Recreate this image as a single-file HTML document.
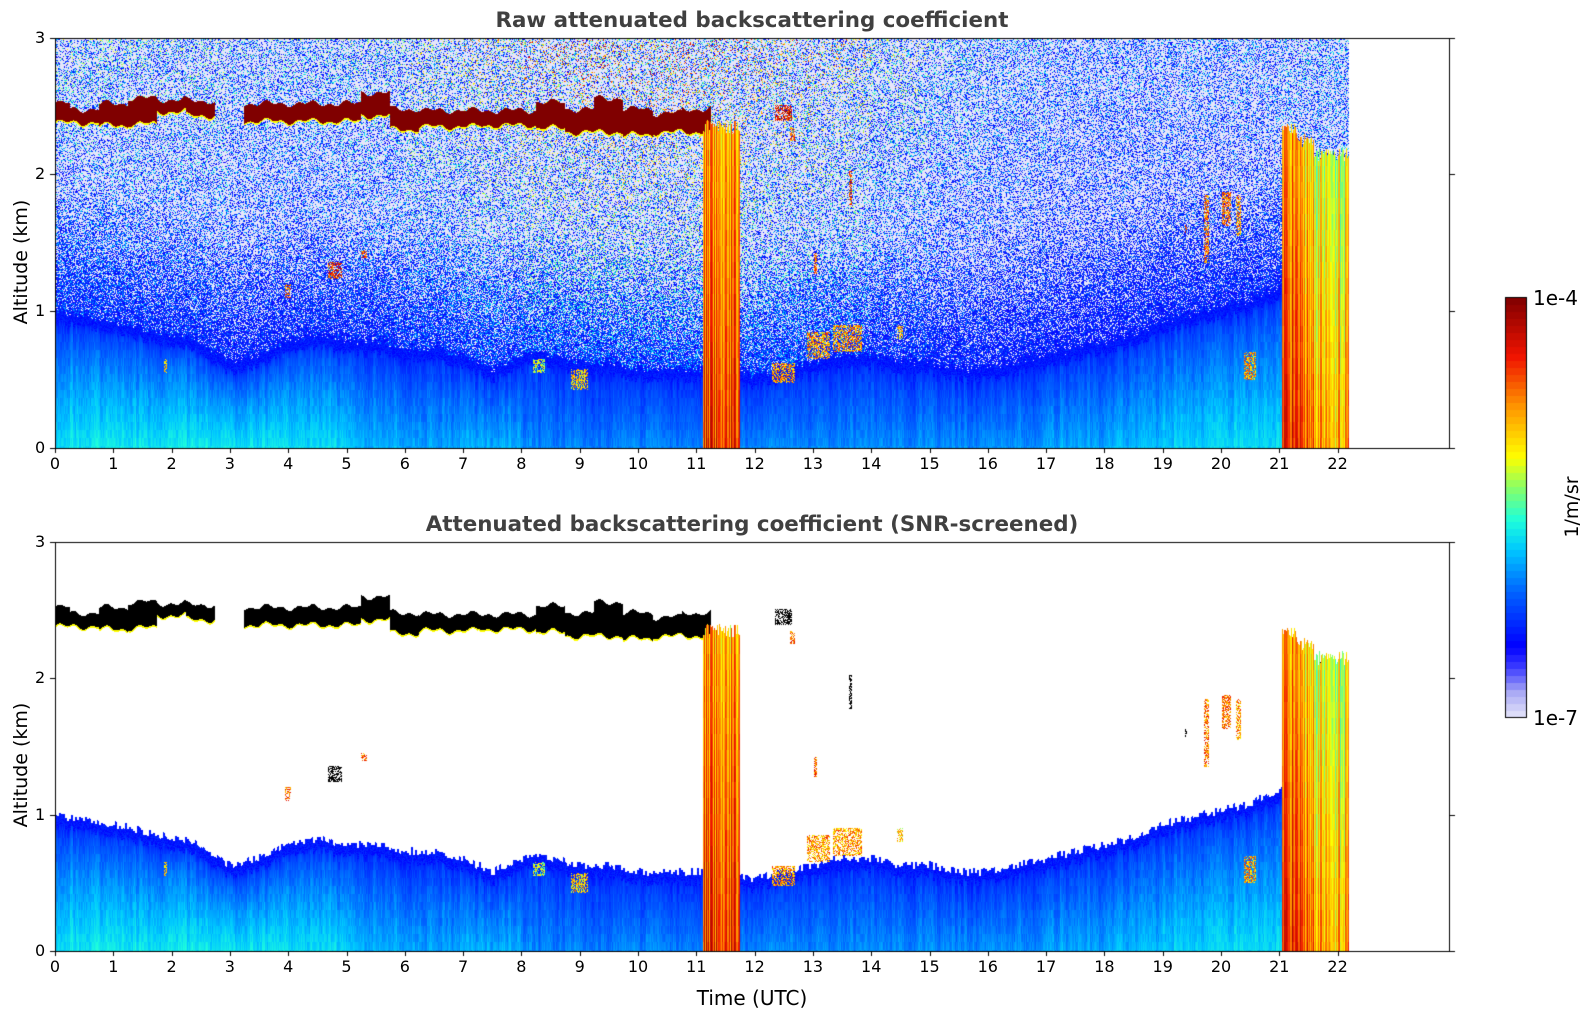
<!DOCTYPE html>
<html><head><meta charset="utf-8">
<style>
html,body{margin:0;padding:0;background:#fff;}
body{width:1595px;height:1020px;position:relative;overflow:hidden;font-family:"DejaVu Sans","Liberation Sans",sans-serif;}
canvas{position:absolute;}
.t{position:absolute;white-space:nowrap;color:#000;}
</style></head>
<body>
<canvas id="c" width="1595" height="1020" style="left:0;top:0"></canvas>
<div class="t" style="left:0;width:1504px;text-align:center;top:8px;font-size:21.4px;font-weight:bold;color:#404040">Raw attenuated backscattering coefficient</div>
<div class="t" style="left:0;width:1504px;text-align:center;top:512px;font-size:21.4px;font-weight:bold;color:#404040">Attenuated backscattering coefficient (SNR-screened)</div>
<div class="t" style="left:21px;top:262px;font-size:19px;transform:translate(-50%,-50%) rotate(-90deg)">Altitude (km)</div>
<div class="t" style="left:21px;top:765px;font-size:19px;transform:translate(-50%,-50%) rotate(-90deg)">Altitude (km)</div>
<div class="t" style="left:752px;top:998px;font-size:20px;transform:translate(-50%,-50%)">Time (UTC)</div>
<div class="t" style="left:1533px;top:286px;font-size:20px">1e-4</div>
<div class="t" style="left:1533px;top:706px;font-size:20px">1e-7</div>
<div class="t" style="left:1572px;top:507px;font-size:19px;transform:translate(-50%,-50%) rotate(-90deg)">1/m/sr</div>
<div id="labels"></div>
<script>
// ---- data ----
const times=[0,0.5,1,1.5,2,2.5,3,3.5,4,4.5,5,5.5,6,6.5,7,7.5,8,8.5,9,9.5,10,10.5,11,11.5,12,12.5,13,13.5,14,14.5,15,15.5,16,16.5,17,17.5,18,18.5,19,19.5,20,20.5,21,21.5,22];
const blh=[0.9,0.9,0.85,0.8,0.75,0.7,0.55,0.6,0.7,0.75,0.7,0.7,0.65,0.65,0.6,0.5,0.6,0.6,0.55,0.55,0.5,0.5,0.5,0.5,0.45,0.5,0.55,0.6,0.6,0.55,0.55,0.5,0.5,0.55,0.6,0.65,0.7,0.75,0.85,0.9,0.95,1.0,1.1,1.1,1.1];
const blStrength=[0.9,0.9,0.9,0.85,0.8,0.6,0.5,0.55,0.3,0.3,0.3,0.3,0.3,0.35,0.35,0.35,0.4,0.5,0.6,0.75,0.8,0.8,0.8];
const cloudBase=[2.37,2.37,2.35,2.36,2.45,2.42,0,2.38,2.38,2.38,2.38,2.42,2.32,2.34,2.34,2.35,2.35,2.33,2.3,2.3,2.28,2.3,2.3,0,0,0,0,0,0,0,0,0,0,0,0,0,0,0,0,0,0,0,0,0,0];
const cloudTop=[2.52,2.48,2.52,2.56,2.55,2.54,0,2.52,2.52,2.52,2.52,2.6,2.48,2.47,2.47,2.47,2.47,2.53,2.48,2.56,2.48,2.45,2.48,0,0,0,0,0,0,0,0,0,0,0,0,0,0,0,0,0,0,0,0,0,0];
const sunAmp=[0.5,0.5,0.5,0.45,0.45,0.5,0.6,0.7,0.8,0.85,0.85,0.8,0.75,0.7,0.55,0.45,0.4,0.35,0.35,0.35,0.35,0.4,0.4];
const rainStart=[11.12,21.05,21.3,21.6];
const rainEnd=[11.75,21.3,21.6,22.2];
const rainTop=[2.3,2.3,2.2,2.1];
const rainLevel=[0.82,0.86,0.8,0.72];
const blobT=[1.9,4.0,4.8,5.3,8.3,9.0,12.5,13.1,13.6,13.65,14.5,12.5,12.65,19.4,19.75,20.1,20.3,20.5,21.8,13.05];
const blobZ=[0.6,1.15,1.3,1.42,0.6,0.5,0.55,0.75,0.8,1.9,0.85,2.45,2.3,1.6,1.6,1.75,1.7,0.6,2.05,1.35];
const blobW=[0.05,0.1,0.25,0.1,0.2,0.3,0.4,0.4,0.5,0.05,0.1,0.3,0.1,0.05,0.1,0.15,0.1,0.2,0.2,0.05];
const blobH=[0.1,0.1,0.12,0.06,0.1,0.15,0.15,0.2,0.2,0.25,0.1,0.12,0.1,0.06,0.5,0.25,0.3,0.2,0.15,0.15];
const blobV=[0.85,0.9,0.95,0.9,0.7,0.8,0.85,0.85,0.85,0.95,0.8,1.0,0.9,0.95,0.9,0.9,0.85,0.85,1.0,0.9];
const xTicks=[0,1,2,3,4,5,6,7,8,9,10,11,12,13,14,15,16,17,18,19,20,21,22];
const yTicks=[0,1,2,3];

// ---- geometry ----
const L=55,R=1449,PXH=58.3,TEND=22.2;
const panels=[{top:37.6,bot:448,raw:true},{top:541.7,bot:951,raw:false}];
const X=t=>L+t*PXH;
const ctx=document.getElementById('c').getContext('2d');

function interp(arr,t){const i=Math.min(arr.length-2,Math.max(0,Math.floor(t/0.5)));const f=Math.min(1,Math.max(0,(t-i*0.5)/0.5));return arr[i]*(1-f)+arr[i+1]*f;}
function near(arr,t){return arr[Math.min(arr.length-1,Math.round(t/0.5))];}
function hash(a,b){let h=(a*374761393+b*668265263)|0;h=(h^(h>>>13))*1274126177|0;return ((h^(h>>>16))>>>0)/4294967296;}
const stops=[[0,230,230,250],[0.06,170,170,245],[0.12,60,60,255],[0.17,0,0,255],[0.3,0,100,255],[0.4,0,200,255],[0.47,30,255,220],[0.55,140,255,100],[0.62,255,255,0],[0.74,255,150,0],[0.86,240,20,0],[1,128,0,0]];
function cmap(v){v=Math.max(0,Math.min(1,v));for(let i=1;i<stops.length;i++){if(v<=stops[i][0]){const a=stops[i-1],b=stops[i],f=(v-a[0])/(b[0]-a[0]);return [a[1]+(b[1]-a[1])*f,a[2]+(b[2]-a[2])*f,a[3]+(b[3]-a[3])*f];}}return [128,0,0];}

function value(t,z,col,row){
  for(let i=0;i<rainStart.length;i++){
    if(t>=rainStart[i]&&t<=rainEnd[i]&&z<rainTop[i]+hash(col,7)*0.1){
      const s=hash(col,3);
      let v=rainLevel[i]+0.25*(s-0.5)-0.12*z/rainTop[i]+0.05*(hash(col,row>>4)-0.5);
      return [v,v>0.97?2:1];
    }
  }
  const cb=near(cloudBase,t),ct=near(cloudTop,t);
  const wob=0.015*Math.sin(t*9)+0.012*Math.sin(t*23);
  if(cb>0&&z>=cb+wob&&z<=ct+wob){
    const edge=z-cb-wob;
    return [edge<0.012?0.62:1.0,edge<0.012?1:2];
  }
  for(let i=0;i<blobT.length;i++){
    if(Math.abs(t-blobT[i])<blobW[i]/2&&Math.abs(z-blobZ[i])<blobH[i]/2&&hash(col,row+i)>0.4){
      return [blobV[i]-0.25*hash(col,row),blobV[i]>=0.95?2:1];
    }
  }
  const h=interp(blh,t)+0.06*(hash(col>>1,1)-0.5);
  const s=blStrength[Math.min(22,Math.floor(t))];
  if(z<h){
    const streak=hash(Math.floor(col/3),5)*0.5+hash(col,row>>3)*0.5;
    const f=1-z/h;
    return [0.2+0.18*s*Math.sqrt(f)+0.06*f+0.09*(streak-0.3),1];
  }
  const ov=z-h;
  if(ov<0.08) return [0.17+0.06*hash(col,row),1];
  const amp=sunAmp[Math.min(22,Math.floor(t))];
  const r=hash(col,row);
  const pw=0.1+0.55*Math.min(1,ov/1.0);
  if(r<pw) return [0,0];
  const r2=hash(row,col+17);
  return [0.15+r2*r2*amp*(0.2+0.9*z/3)*0.9,0];
}

panels.forEach((p,pi)=>{
  const w=Math.round(X(TEND)-L),hgt=Math.round(p.bot-p.top);
  const img=ctx.createImageData(w,hgt);
  for(let col=0;col<w;col++){
    const t=(col+0.5)/PXH;
    for(let row=0;row<hgt;row++){
      const z=3*(1-(row+0.5)/hgt);
      let [v,k]=value(t,z,col,row);
      let c;
      if(!p.raw){
        if(k===0){c=[255,255,255];}
        else if(k===2){c=[0,0,0];}
        else c=cmap(v);
      } else c=cmap(v);
      const o=(row*w+col)*4;img.data[o]=c[0];img.data[o+1]=c[1];img.data[o+2]=c[2];img.data[o+3]=255;
    }
  }
  ctx.putImageData(img,L,Math.round(p.top));
  ctx.strokeStyle='#000';ctx.lineWidth=1;
  ctx.strokeRect(L+0.5,Math.round(p.top)+0.5,R-L,Math.round(p.bot-p.top));
  const yz=z=>p.top+(3-z)*(p.bot-p.top)/3;
  ctx.beginPath();
  xTicks.forEach(t=>{const x=Math.round(X(t))+0.5;ctx.moveTo(x,Math.round(p.bot));ctx.lineTo(x,Math.round(p.bot)+5);});
  yTicks.forEach(z=>{const y=Math.round(yz(z))+0.5;ctx.moveTo(L-5,y);ctx.lineTo(L,y);ctx.moveTo(R+1,y);ctx.lineTo(R+6,y);});
  ctx.stroke();
  const lab=document.getElementById('labels');
  xTicks.forEach(t=>{const d=document.createElement('div');d.className='t';
    
    
    d.style.cssText=`left:${X(t)}px;top:${p.bot+6}px;font-size:16px;transform:translateX(-50%)`;d.textContent=t;lab.appendChild(d);});
  yTicks.forEach(z=>{const d=document.createElement('div');d.className='t';
    
    
    d.style.cssText=`left:${L-20}px;top:${yz(z)-10}px;font-size:16px`;d.textContent=z;lab.appendChild(d);});
});
// colorbar
const cbX=1505,cbW=21,cbT=297,cbB=717,nb=60;
for(let i=0;i<nb;i++){const v=(i+0.5)/nb;const c=cmap(v);ctx.fillStyle=`rgb(${c[0]|0},${c[1]|0},${c[2]|0})`;
  const y0=cbB-(i+1)*(cbB-cbT)/nb;ctx.fillRect(cbX,Math.floor(y0),cbW,Math.ceil((cbB-cbT)/nb)+1);}
ctx.strokeStyle='#000';ctx.strokeRect(cbX+0.5,cbT+0.5,cbW,cbB-cbT);
</script>
</body></html>
